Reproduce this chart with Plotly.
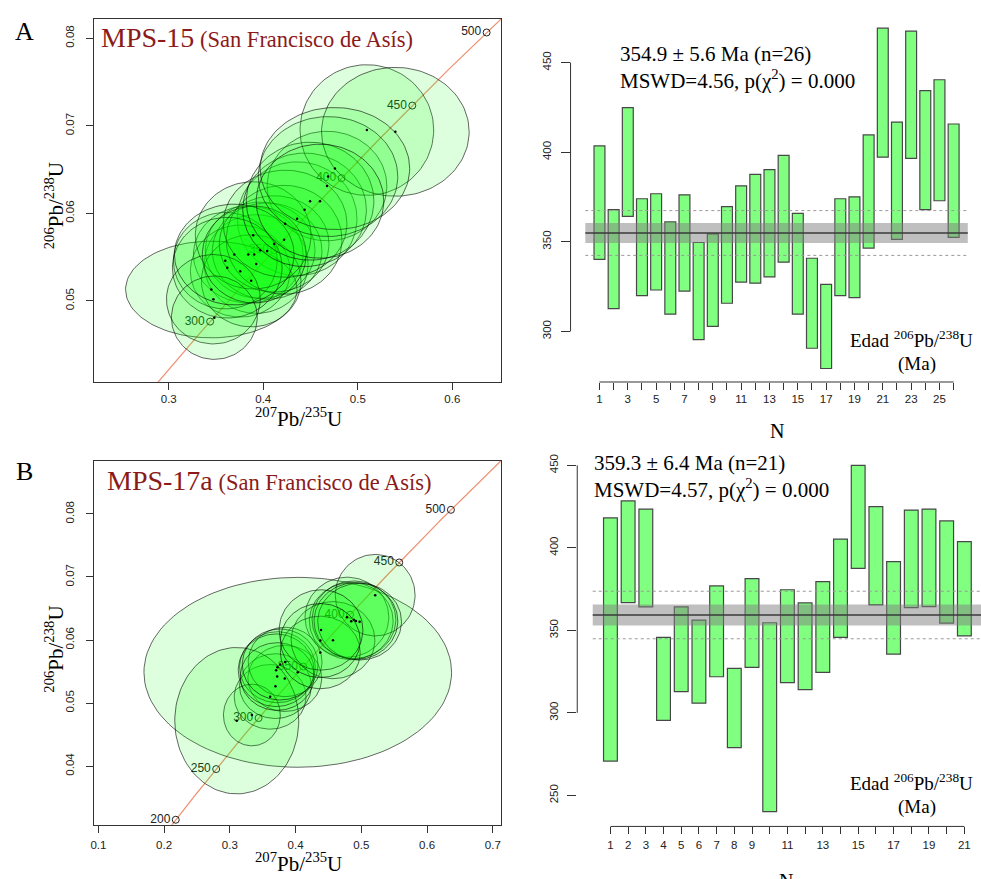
import numpy as np
import plotly.graph_objects as go

# ---------------------------------------------------------------------------
# U-Pb data: 206Pb/238U ages (2-sigma interval, Ma) and 207Pb/235U ratios
# ---------------------------------------------------------------------------
# MPS-15
age_lo_A = [340.2, 312.7, 364.2, 319.9, 323.1, 309.6, 322.5, 295.4, 302.8, 315.7,
            327.5, 326.9, 330.4, 338.6, 309.6, 290.6, 279.3, 319.9, 318.8, 346.5,
            397.2, 351.3, 396.5, 367.9, 372.9, 352.4]
age_hi_A = [403.5, 367.9, 424.9, 374.0, 376.8, 361.1, 376.2, 349.6, 354.4, 369.6,
            381.2, 387.6, 390.2, 398.2, 365.9, 340.8, 326.2, 374.0, 375.1, 409.6,
            469.2, 416.8, 467.5, 434.3, 440.4, 415.7]
pb75_A = [0.4358, 0.3925, 0.4674, 0.3841, 0.3967, 0.3756, 0.4041, 0.3450, 0.3872, 0.3598,
          0.4115, 0.4220, 0.3893, 0.4231, 0.3619, 0.3472, 0.3482, 0.3904, 0.3693, 0.4437,
          0.5096, 0.4495, 0.5397, 0.4685, 0.4758, 0.4600]
pb75_err_A = [0.0633, 0.0549, 0.0633, 0.0580, 0.0580, 0.0527, 0.0580, 0.0907, 0.0527, 0.0549,
              0.0580, 0.0612, 0.0612, 0.0654, 0.0580, 0.0496, 0.0454, 0.0549, 0.0633, 0.0654,
              0.0707, 0.0675, 0.0781, 0.0738, 0.0791, 0.0675]
mean_A, err_A, disp_A, mswd_A, p_A = 354.9, 5.6, 12.5, 4.56, 0.000

# MPS-17a
age_lo_B = [270.8, 366.8, 364.2, 295.5, 312.9, 305.9, 321.9, 278.9, 327.6, 240.2,
            318.3, 314.1, 324.5, 345.8, 387.5, 365.4, 335.6, 363.8, 364.4, 354.4, 346.6]
age_hi_B = [418.1, 428.4, 423.5, 345.8, 364.2, 356.2, 376.9, 327.0, 381.3, 354.6,
            374.6, 366.6, 379.5, 405.3, 450.0, 425.0, 391.7, 422.9, 423.5, 416.3, 403.7]
pb75_B = [0.4033, 0.4781, 0.4847, 0.3613, 0.3836, 0.3694, 0.3724, 0.3335, 0.3841, 0.3105,
          0.3704, 0.3720, 0.3765, 0.4569, 0.5211, 0.4888, 0.4376, 0.4974, 0.4918, 0.4387, 0.4376]
pb75_err_B = [0.2340, 0.0637, 0.0637, 0.0546, 0.0561, 0.0546, 0.0576, 0.0432, 0.0561, 0.0943,
              0.0576, 0.0561, 0.0576, 0.0637, 0.0607, 0.0637, 0.0607, 0.0637, 0.0637, 0.0637, 0.0607]
mean_B, err_B, disp_B, mswd_B, p_B = 359.3, 6.4, 14.4, 4.57, 0.000

conc_ticks_A = [300, 350, 400, 450, 500]
conc_ticks_B = [200, 250, 300, 350, 400, 450, 500]

# decay constants (1/Ma)
L238 = 1.55125e-4
L235 = 9.8485e-4
# 95 % two-dimensional ellipse relative to a 95 % one-dimensional interval
ELL_K = 2.4477 / 1.96

W, H = 981, 879
SERIF = "Liberation Serif"
SANS = "Liberation Sans"
INK = "#222222"
TITLE_RED = "#8b1a1a"


def fx(px):
    return px / W


def fy(py):
    return 1 - py / H


fig = go.Figure()


def concordia(xa, ya, ticks):
    t = np.linspace(100, 700, 500)
    fig.add_trace(go.Scatter(x=np.exp(L235 * t) - 1, y=np.exp(L238 * t) - 1, mode="lines",
                             line=dict(color="rgb(238,148,118)", width=1.3),
                             xaxis=xa, yaxis=ya, hoverinfo="skip"))
    tk = np.array(ticks, dtype=float)
    fig.add_trace(go.Scatter(x=np.exp(L235 * tk) - 1, y=np.exp(L238 * tk) - 1,
                             mode="markers+text", text=[str(v) for v in ticks],
                             textposition="middle left",
                             textfont=dict(family=SANS, size=12, color=INK),
                             marker=dict(symbol="circle-open", size=7,
                                         color="#222", line=dict(width=1)),
                             xaxis=xa, yaxis=ya, hoverinfo="skip", cliponaxis=True))


def ellipses(xa, ya, lo, hi, px, pxe):
    lo = np.array(lo); hi = np.array(hi)
    mid = (lo + hi) / 2
    half = (hi - lo) / 2
    cy = np.exp(L238 * mid) - 1
    sy = ELL_K * L238 * (1 + cy) * half
    th = np.linspace(0, 2 * np.pi, 121)
    for cxi, sxi, cyi, syi in zip(px, pxe, cy, sy):
        fig.add_trace(go.Scatter(x=cxi + sxi * np.cos(th), y=cyi + syi * np.sin(th),
                                 mode="lines", fill="toself",
                                 fillcolor="rgba(0,255,0,0.13)",
                                 line=dict(color="rgba(0,0,0,0.75)", width=0.8),
                                 xaxis=xa, yaxis=ya, hoverinfo="skip"))
    fig.add_trace(go.Scatter(x=px, y=cy, mode="markers",
                             marker=dict(size=2.5, color="black"),
                             xaxis=xa, yaxis=ya, hoverinfo="skip"))


def age_bars(xa, ya, lo, hi, mean, err, disp, width):
    n = len(lo)
    idx = list(range(1, n + 1))
    fig.add_trace(go.Bar(x=idx, base=lo, y=[h - l for l, h in zip(lo, hi)], width=width,
                         marker=dict(color="#80ff80", line=dict(color="#474747", width=1.2)),
                         xaxis=xa, yaxis=ya, hoverinfo="skip"))
    xr, yr = xa, ya
    for v in (mean - disp, mean + disp):
        fig.add_shape(type="line", xref=xr, yref=yr, x0=0, x1=n + 1, y0=v, y1=v,
                      line=dict(color="#9a9a9a", width=1, dash="dot"), layer="above")
    fig.add_shape(type="rect", xref=xr, yref=yr, x0=0, x1=n + 1, y0=mean - err, y1=mean + err,
                  fillcolor="rgba(128,128,128,0.5)", line=dict(width=0), layer="above")
    fig.add_shape(type="line", xref=xr, yref=yr, x0=0, x1=n + 1, y0=mean, y1=mean,
                  line=dict(color="#3a3a3a", width=1.6), layer="above")
    # axis lines spanning the tick range only
    fig.add_shape(type="line", xref=xr + " domain", yref=yr, x0=0, x1=0, y0=300, y1=450,
                  line=dict(color="#333", width=1))
    fig.add_shape(type="line", xref=xr, yref=yr + " domain", x0=1, x1=n, y0=0, y1=0,
                  line=dict(color="#333", width=1))


# ---- panel A: concordia ----
concordia("x", "y", conc_ticks_A)
ellipses("x", "y", age_lo_A, age_hi_A, pb75_A, pb75_err_A)
# ---- panel A: weighted mean ----
age_bars("x2", "y2", age_lo_A, age_hi_A, mean_A, err_A, disp_A, 0.77)
# ---- panel B: concordia ----
concordia("x3", "y3", conc_ticks_B)
ellipses("x3", "y3", age_lo_B, age_hi_B, pb75_B, pb75_err_B)
# ---- panel B: weighted mean ----
age_bars("x4", "y4", age_lo_B, age_hi_B, mean_B, err_B, disp_B, 0.78)

tickfont = dict(family=SANS, size=11.5, color=INK)

box_axis = dict(showline=True, mirror=True, linecolor="#333", linewidth=1,
                ticks="outside", ticklen=7, tickcolor="#333", showgrid=False,
                zeroline=False, tickfont=tickfont)
free_axis = dict(showline=False, ticks="outside", tickcolor="#333", showgrid=False,
                 zeroline=False, tickfont=tickfont)

lab_A = [str(i) if i % 2 == 1 else "" for i in range(1, len(age_lo_A) + 1)]
lab_B = [str(i) if (i <= 9 or i % 2 == 1) else "" for i in range(1, len(age_lo_B) + 1)]

fig.update_layout(
    width=W, height=H, margin=dict(l=0, r=0, t=0, b=0),
    paper_bgcolor="white", plot_bgcolor="white", showlegend=False,
    xaxis=dict(domain=[fx(91), fx(500)], range=[0.2206, 0.652], anchor="y",
               tickvals=[0.3, 0.4, 0.5, 0.6], ticklabelstandoff=-1, **box_axis),
    yaxis=dict(domain=[fy(378), fy(12)], range=[0.04074, 0.0822], anchor="x",
               tickvals=[0.05, 0.06, 0.07, 0.08], tickangle=-90, ticklabelstandoff=7,
               **box_axis),
    xaxis2=dict(domain=[fx(569.3), fx(975)], range=[-1.041, 27.51], anchor="y2",
                tickvals=list(range(1, len(age_lo_A) + 1)), ticktext=lab_A, ticklen=7,
                ticklabelstandoff=-1, **free_axis),
    yaxis2=dict(domain=[fy(378), fy(12)], range=[271.77, 474.35], anchor="x2",
                tickvals=[300, 350, 400, 450], tickangle=-90, ticklen=9,
                ticklabelstandoff=5, **free_axis),
    xaxis3=dict(domain=[fx(91), fx(500)], range=[0.0929, 0.7132], anchor="y3",
                tickvals=[0.1, 0.2, 0.3, 0.4, 0.5, 0.6, 0.7], ticklabelstandoff=2, **box_axis),
    yaxis3=dict(domain=[fy(824.3), fy(457.7)], range=[0.03072, 0.08838], anchor="x3",
                tickvals=[0.04, 0.05, 0.06, 0.07, 0.08], tickangle=-90, ticklabelstandoff=7,
                **box_axis),
    xaxis4=dict(domain=[fx(576), fx(981)], range=[-0.876, 21.94], anchor="y4",
                tickvals=list(range(1, len(age_lo_B) + 1)), ticktext=lab_B, ticklen=7,
                ticklabelstandoff=1, **free_axis),
    yaxis4=dict(domain=[fy(826), fy(458)], range=[231.2, 452.4], anchor="x4",
                tickvals=[250, 300, 350, 400, 450], tickangle=-90, ticklen=9,
                ticklabelstandoff=5, **free_axis),
)

ratio75 = "<sup>207</sup>Pb/<sup>235</sup>U"
ratio68 = "<sup>206</sup>Pb/<sup>238</sup>U"


def note(text, px, py, size, xanchor="center", yanchor="middle", color="black",
         family=SERIF, angle=0, align="left"):
    fig.add_annotation(text=text, x=fx(px), y=fy(py), xref="paper", yref="paper",
                       xanchor=xanchor, yanchor=yanchor, showarrow=False, textangle=angle,
                       align=align, font=dict(family=family, size=size, color=color))


for letter, top, ytitle_y, xtitle_y, name, name_x, name_y in (
        ("A", 25, 200, 414, "MPS-15", 96, 31),
        ("B", 468, 647, 862, "MPS-17a", 102, 477)):
    note(letter, 22, top, 26)
    note(ratio68, 52, ytitle_y, 21, angle=-90)
    note(ratio75, 296, xtitle_y, 21)
    note(f"<span style='font-size:28px'>{name}</span> (San Francisco de Asís)",
         name_x, name_y, 22.5, xanchor="left", color=TITLE_RED)

for mean, err, n, mswd, p, x0, ymid, ylab, ntitle_y in (
        (mean_A, err_A, len(age_lo_A), mswd_A, p_A, 617, 61, 335, 427),
        (mean_B, err_B, len(age_lo_B), mswd_B, p_B, 591, 473, 781, 881)):
    note(f"{mean:.1f} ± {err:.1f} Ma (n={n})<br>MSWD={mswd:.2f}, p(χ<sup>2</sup>) = {p:.3f}",
         x0, ymid, 21, xanchor="left")
    note(f"Edad {ratio68}", 975, ylab, 19, xanchor="right")
    note("(Ma)", 917, ylab + 25, 19)
    note("N", 776 if ntitle_y < 500 else 785, ntitle_y, 20)

fig.write_html("out.html")
